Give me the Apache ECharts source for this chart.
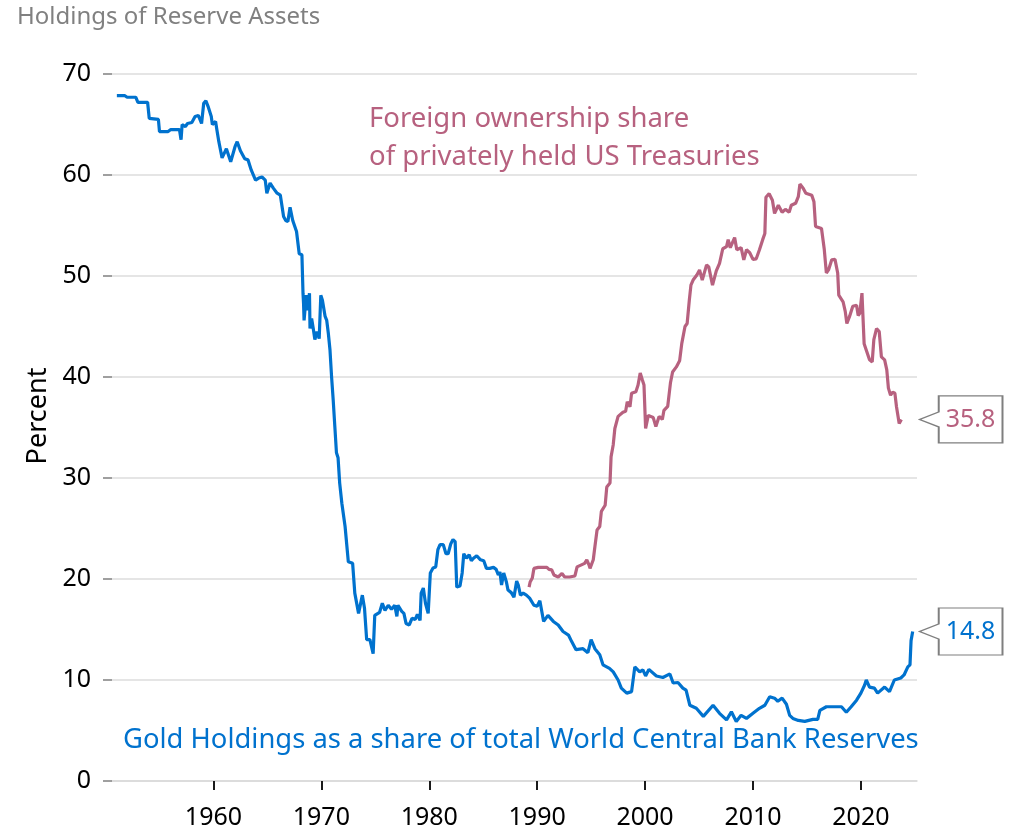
<!DOCTYPE html>
<html>
<head>
<meta charset="utf-8">
<script src="https://cdn.jsdelivr.net/npm/echarts@6/dist/echarts.min.js"></script>
<style>
  html, body { margin: 0; padding: 0; background: #fff; }
  #chart { width: 1020px; height: 830px; }
</style>
</head>
<body>
<div id="chart"></div>
<script>
// Gold holdings as a share of total world central bank reserves (percent)
const goldYears = [
  1951.05, 1951.8, 1952.0, 1952.8, 1953.0, 1953.9, 1954.05, 1954.9, 1955.0, 1955.8,
  1956.05, 1956.85, 1957.0, 1957.1, 1957.4, 1957.6, 1958.0, 1958.3, 1958.6, 1958.9,
  1959.1, 1959.3, 1959.5, 1959.8, 1959.9, 1960.2, 1960.3, 1960.5, 1960.8, 1961.2,
  1961.6, 1962.0, 1962.2, 1962.5, 1962.9, 1963.2, 1963.5, 1963.9, 1964.2, 1964.5,
  1964.8, 1964.95, 1965.25, 1965.55, 1965.9, 1966.2, 1966.5, 1966.7, 1966.9, 1967.1,
  1967.35, 1967.7, 1967.95, 1968.2, 1968.3, 1968.35, 1968.4, 1968.6, 1968.7, 1968.9,
  1968.95, 1969.1, 1969.25, 1969.4, 1969.6, 1969.8, 1969.95, 1970.1, 1970.35, 1970.5,
  1970.65, 1970.8, 1970.95, 1971.1, 1971.25, 1971.4, 1971.55, 1971.7, 1971.9, 1972.2,
  1972.5, 1972.9, 1973.1, 1973.45, 1973.8, 1974.0, 1974.2, 1974.5, 1974.8, 1974.95,
  1975.4, 1975.65, 1975.9, 1976.2, 1976.5, 1976.8, 1977.0, 1977.1, 1977.45, 1977.65,
  1977.85, 1978.15, 1978.4, 1978.7, 1978.9, 1979.15, 1979.25, 1979.45, 1979.65, 1979.9,
  1980.1, 1980.35, 1980.6, 1980.8, 1981.0, 1981.3, 1981.55, 1981.75, 1982.0, 1982.2,
  1982.4, 1982.55, 1982.85, 1983.05, 1983.2, 1983.45, 1983.7, 1983.9, 1984.1, 1984.4,
  1984.75, 1985.05, 1985.3, 1985.6, 1985.95, 1986.2, 1986.4, 1986.55, 1986.7, 1986.9,
  1987.15, 1987.3, 1987.6, 1987.85, 1988.1, 1988.25, 1988.45, 1988.7, 1989.0, 1989.3,
  1989.7, 1990.0, 1990.25, 1990.6, 1991.0, 1991.5, 1991.95, 1992.4, 1992.9, 1993.2,
  1993.6, 1994.25, 1994.7, 1995.0, 1995.35, 1995.8, 1996.1, 1996.7, 1997.05, 1997.5,
  1997.8, 1998.3, 1998.75, 1999.05, 1999.5, 1999.8, 2000.05, 2000.35, 2001.05, 2001.65,
  2002.3, 2002.6, 2003.05, 2003.5, 2003.8, 2004.15, 2004.75, 2005.4, 2006.3, 2006.9,
  2007.55, 2008.0, 2008.45, 2008.9, 2009.4, 2010.0, 2010.6, 2011.1, 2011.55, 2012.0,
  2012.3, 2012.7, 2013.1, 2013.4, 2013.7, 2014.2, 2014.8, 2015.55, 2016.0, 2016.2,
  2016.8, 2017.7, 2018.2, 2018.65, 2019.1, 2019.6, 2020.0, 2020.35, 2020.5, 2020.8,
  2021.25, 2021.55, 2022.2, 2022.65, 2023.1, 2023.7, 2024.0, 2024.35, 2024.55, 2024.65,
  2024.8
];
const goldShare = [
  67.85, 67.85, 67.7, 67.7, 67.2, 67.2, 65.6, 65.5, 64.3, 64.3,
  64.5, 64.5, 63.5, 65.0, 64.8, 65.1, 65.2, 65.8, 65.9, 65.1,
  67.1, 67.35, 66.8, 65.8, 65.0, 65.3, 64.6, 63.3, 61.7, 62.6,
  61.3, 62.8, 63.3, 62.4, 61.6, 61.5, 60.5, 59.5, 59.7, 59.8,
  59.5, 58.2, 59.2, 58.7, 58.2, 58.0, 55.9, 55.5, 55.4, 56.8,
  55.5, 54.4, 52.2, 52.1, 48.3, 47.3, 45.6, 48.1, 46.6, 48.3,
  44.8, 45.8, 44.8, 43.7, 44.5, 43.8, 48.1, 47.6, 46.0, 45.6,
  44.3, 42.7, 40.0, 37.7, 35.1, 32.5, 32.0, 29.5, 27.5, 25.2,
  21.7, 21.55, 18.6, 16.6, 18.4, 17.1, 14.0, 14.0, 12.6, 16.4,
  16.7, 17.6, 16.9, 17.4, 17.0, 17.4, 16.3, 17.4, 16.8, 16.6,
  15.6, 15.45, 16.1, 16.0, 16.5, 15.9, 18.6, 19.1, 17.6, 16.6,
  20.6, 21.1, 21.2, 22.9, 23.4, 23.4, 22.5, 22.5, 23.5, 23.9,
  23.7, 19.2, 19.3, 20.6, 22.5, 22.05, 22.4, 21.8, 22.05, 22.3,
  21.9, 21.8, 21.05, 21.05, 21.15, 20.95, 20.4, 20.7, 19.4, 20.6,
  19.7, 18.9, 18.65, 18.2, 19.8, 19.4, 18.4, 18.6, 18.4, 18.1,
  17.4, 17.3, 17.85, 15.8, 16.4, 15.8, 15.45, 14.8, 14.45, 13.8,
  13.0, 13.1, 12.7, 14.0, 13.1, 12.5, 11.5, 11.15, 10.8, 10.0,
  9.2, 8.7, 8.85, 11.3, 10.8, 11.0, 10.4, 11.05, 10.4, 10.25,
  10.6, 9.7, 9.75, 9.2, 9.0, 7.5, 7.2, 6.4, 7.5, 6.7,
  6.05, 6.85, 5.9, 6.5, 6.2, 6.7, 7.2, 7.5, 8.35, 8.2,
  7.9, 8.2, 7.6, 6.5, 6.2, 6.0, 5.9, 6.1, 6.1, 7.0,
  7.35, 7.35, 7.35, 6.8, 7.35, 8.0, 8.7, 9.5, 10.0, 9.3,
  9.2, 8.7, 9.3, 8.85, 10.0, 10.2, 10.5, 11.3, 11.5, 13.9,
  14.8
];

// Foreign ownership share of privately held US Treasuries (percent)
const foreignYears = [
  1989.25, 1989.35, 1989.55, 1989.7, 1990.1, 1990.55, 1990.9, 1991.1, 1991.35, 1991.55,
  1991.95, 1992.3, 1992.55, 1993.0, 1993.5, 1993.7, 1994.1, 1994.4, 1994.6, 1994.8,
  1994.9, 1995.2, 1995.35, 1995.55, 1995.8, 1995.95, 1996.3, 1996.45, 1996.75, 1996.85,
  1997.05, 1997.2, 1997.5, 1997.95, 1998.2, 1998.35, 1998.6, 1998.75, 1999.15, 1999.35,
  1999.55, 1999.75, 1999.9, 2000.05, 2000.3, 2000.75, 2001.0, 2001.3, 2001.6, 2001.75,
  2002.1, 2002.35, 2002.55, 2002.9, 2003.2, 2003.4, 2003.7, 2003.9, 2004.1, 2004.25,
  2004.45, 2004.8, 2005.05, 2005.3, 2005.7, 2005.9, 2006.25, 2006.6, 2006.9, 2007.2,
  2007.55, 2007.7, 2007.9, 2008.3, 2008.5, 2008.9, 2009.15, 2009.4, 2009.7, 2010.0,
  2010.3, 2010.6, 2010.9, 2011.1, 2011.2, 2011.5, 2011.8, 2012.0, 2012.35, 2012.7,
  2013.0, 2013.35, 2013.55, 2013.95, 2014.2, 2014.35, 2014.65, 2014.9, 2015.45, 2015.65,
  2015.8, 2016.35, 2016.6, 2016.8, 2017.0, 2017.3, 2017.6, 2017.85, 2017.95, 2018.35,
  2018.55, 2018.7, 2018.95, 2019.25, 2019.6, 2019.75, 2019.9, 2020.1, 2020.3, 2020.55,
  2020.8, 2021.05, 2021.2, 2021.45, 2021.7, 2021.9, 2022.2, 2022.4, 2022.55, 2022.75,
  2022.95, 2023.15, 2023.3, 2023.55, 2023.75
];
const foreignShare = [
  19.2, 19.7, 20.1, 21.05, 21.15, 21.15, 21.15, 20.95, 20.9, 20.4,
  20.2, 20.55, 20.2, 20.2, 20.3, 21.2, 21.4, 21.55, 21.9, 21.4,
  21.05, 21.9, 23.2, 24.85, 25.2, 26.7, 27.3, 29.1, 29.5, 32.1,
  33.3, 34.9, 36.1, 36.5, 36.6, 37.55, 37.05, 38.4, 38.55, 39.2,
  40.4, 39.7, 39.2, 34.9, 36.2, 36.0, 35.1, 36.1, 35.8, 36.7,
  37.1, 39.4, 40.5, 41.0, 41.6, 43.3, 45.0, 45.3, 47.6, 49.1,
  49.6, 50.1, 50.6, 49.6, 51.1, 50.9, 49.1, 50.5, 51.25, 52.7,
  52.9, 53.6, 52.8, 53.8, 52.6, 52.8, 51.6, 52.6, 52.3, 51.65,
  51.7, 52.6, 53.6, 54.2, 57.8, 58.15, 57.5, 56.2, 57.0, 56.3,
  56.6, 56.3, 57.0, 57.2, 57.85, 59.1, 58.7, 58.2, 58.0, 57.35,
  54.9, 54.7, 52.7, 50.3, 50.6, 51.6, 51.65, 50.3, 48.1, 47.45,
  46.5, 45.3, 46.0, 47.0, 47.1, 46.1, 46.3, 48.3, 43.3, 42.5,
  41.7, 41.5, 43.7, 44.8, 44.5, 42.0, 41.7, 40.7, 38.9, 38.2,
  38.5, 38.4, 37.05, 35.4, 35.8
];

// Axis ranges and tick labels
const yearTicks = [1960, 1970, 1980, 1990, 2000, 2010, 2020];
const xMin = 1950.6;
const xMax = 2025.2;

const BLUE = '#0072CE';
const MAUVE = '#B7617F';
const FONT = '"Noto Sans", "Open Sans", sans-serif';

const toPairs = (xs, ys) => xs.map((x, i) => [x, ys[i]]);

// Callout box with a left-pointing notch, tip at the left edge
const calloutPath = 'path://M0 23.5 L19 16 L19 0 L82 0 L82 47 L19 47 L19 31 Z';
function endCallout(value, color) {
  return {
    silent: true,
    symbol: calloutPath,
    symbolSize: [83, 47],
    symbolOffset: [44, 0],
    itemStyle: { color: '#ffffff', borderColor: '#7f7f7f', borderWidth: 1.5 },
    label: {
      show: true,
      position: 'inside',
      offset: [9.5, 0],
      formatter: value.toFixed(1),
      color: color,
      fontFamily: FONT,
      fontSize: 25
    },
    data: [{ coord: [xMax, value], value: value }]
  };
}

const chart = echarts.init(document.getElementById('chart'), null, { renderer: 'canvas' });

chart.setOption({
  animation: false,
  backgroundColor: '#ffffff',
  textStyle: { fontFamily: FONT },
  title: {
    text: 'Holdings of Reserve Assets',
    left: 12,
    top: 0,
    textStyle: { color: '#808080', fontSize: 24, fontWeight: 'normal', fontFamily: FONT }
  },
  grid: {
    left: 112, right: 103, top: 74, bottom: 49,
    containLabel: false,
    outerBoundsMode: 'none'
  },
  xAxis: {
    type: 'value',
    min: xMin,
    max: xMax,
    splitLine: { show: false },
    axisLine: { show: true, lineStyle: { color: '#d9d9d9', width: 1.5 } },
    axisTick: {
      show: true,
      customValues: yearTicks,
      length: 9,
      lineStyle: { color: '#1a1a1a', width: 2 }
    },
    axisLabel: {
      customValues: yearTicks,
      formatter: v => String(v),
      color: '#000000',
      fontSize: 25,
      margin: 24,
      fontFamily: FONT
    }
  },
  yAxis: {
    type: 'value',
    min: 0,
    max: 70,
    interval: 10,
    axisLine: { show: false },
    axisTick: { show: true, length: 9, lineStyle: { color: '#808080', width: 1.5 } },
    splitLine: { show: true, lineStyle: { color: '#dcdcdc', width: 1.5 } },
    axisLabel: {
      color: '#000000',
      fontSize: 25,
      margin: 21,
      fontFamily: FONT,
      formatter: v => String(v)
    }
  },
  graphic: [
    {
      type: 'text',
      x: 38,
      y: 416,
      rotation: Math.PI / 2,
      style: {
        text: 'Percent',
        fill: '#000000',
        font: '27px ' + FONT,
        align: 'center',
        verticalAlign: 'middle'
      }
    },
    {
      type: 'text',
      left: 369,
      top: 100,
      style: {
        text: 'Foreign ownership share\nof privately held US Treasuries',
        fill: MAUVE,
        font: '27.5px ' + FONT,
        lineHeight: 38
      }
    },
    {
      type: 'text',
      left: 123,
      top: 727,
      style: {
        text: 'Gold Holdings as a share of total World Central Bank Reserves',
        fill: BLUE,
        font: '27.4px ' + FONT
      }
    }
  ],
  series: [
    {
      name: 'Gold Holdings',
      type: 'line',
      data: toPairs(goldYears, goldShare),
      showSymbol: false,
      lineStyle: { color: BLUE, width: 3.2 },
      itemStyle: { color: BLUE },
      markPoint: endCallout(goldShare[goldShare.length - 1], BLUE),
      z: 3
    },
    {
      name: 'Foreign ownership',
      type: 'line',
      data: toPairs(foreignYears, foreignShare),
      showSymbol: false,
      lineStyle: { color: MAUVE, width: 3.2 },
      itemStyle: { color: MAUVE },
      markPoint: endCallout(foreignShare[foreignShare.length - 1], MAUVE),
      z: 2
    }
  ]
});
</script>
</body>
</html>
